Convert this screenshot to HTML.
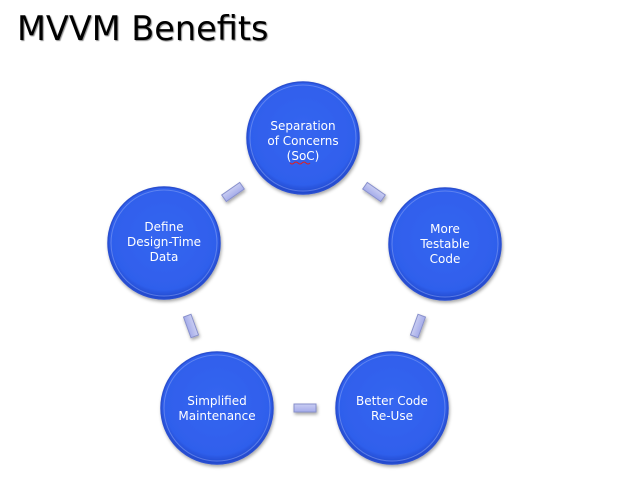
<!DOCTYPE html>
<html><head><style>
body{margin:0;background:#fff;width:640px;height:479px;overflow:hidden}
</style></head><body>
<svg width="640" height="479" xmlns="http://www.w3.org/2000/svg">
<defs>
<radialGradient id="g" cx="0.5" cy="0.45" r="0.55">
<stop offset="0" stop-color="#3566f0"/><stop offset="0.85" stop-color="#2f5fec"/><stop offset="1" stop-color="#2146c8"/>
</radialGradient>
<filter id="sh" x="-20%" y="-20%" width="140%" height="140%"><feDropShadow dx="1" dy="2" stdDeviation="1.5" flood-color="#000" flood-opacity="0.35"/></filter>
<linearGradient id="b" x1="0" y1="0" x2="0" y2="1"><stop offset="0" stop-color="#c9cdf2"/><stop offset="1" stop-color="#a5acea"/></linearGradient>
</defs>
<text x="17" y="40" font-family="DejaVu Sans, sans-serif" font-size="33.5" fill="#000" style="text-shadow:1px 1px 1px #888">MVVM Benefits</text>
<g filter="url(#sh)">
<g stroke="#2a4fd0" stroke-width="1.5" fill="url(#g)">
<circle cx="303" cy="138" r="56"/>
<circle cx="445" cy="244" r="56"/>
<circle cx="392" cy="408" r="56"/>
<circle cx="217" cy="408" r="56"/>
<circle cx="164" cy="243" r="56"/>
</g>
<g fill="url(#b)" stroke="#8890cc" stroke-width="1">
<rect x="-11" y="-4" width="22" height="8" transform="translate(233,192) rotate(-35)"/>
<rect x="-11" y="-4" width="22" height="8" transform="translate(374,192) rotate(35)"/>
<rect x="-11" y="-4" width="22" height="8" transform="translate(418,326) rotate(-70)"/>
<rect x="-11" y="-4" width="22" height="8" transform="translate(305,408)"/>
<rect x="-11" y="-4" width="22" height="8" transform="translate(191,326) rotate(70)"/>
</g>
</g>
<g fill="none" stroke="#8fa8f5" stroke-width="1" opacity="0.5">
<circle cx="303" cy="138" r="53"/><circle cx="445" cy="244" r="53"/><circle cx="392" cy="408" r="53"/><circle cx="217" cy="408" r="53"/><circle cx="164" cy="243" r="53"/>
</g>
<g font-family="DejaVu Sans, sans-serif" font-size="12" fill="#fff" text-anchor="middle">
<text x="303" y="130">Separation</text><text x="303" y="145">of Concerns</text><text x="303" y="160">(SoC)</text>
<text x="445" y="233">More</text><text x="445" y="248">Testable</text><text x="445" y="263">Code</text>
<text x="392" y="405">Better Code</text><text x="392" y="420">Re-Use</text>
<text x="217" y="405">Simplified</text><text x="217" y="420">Maintenance</text>
<text x="164" y="231">Define</text><text x="164" y="246">Design-Time</text><text x="164" y="261">Data</text>
</g>
<path d="M290 163 q2 2 4 0 t4 0 t4 0 t4 0 t4 0" stroke="#e02020" stroke-width="1" fill="none"/>
</svg>
</body></html>
